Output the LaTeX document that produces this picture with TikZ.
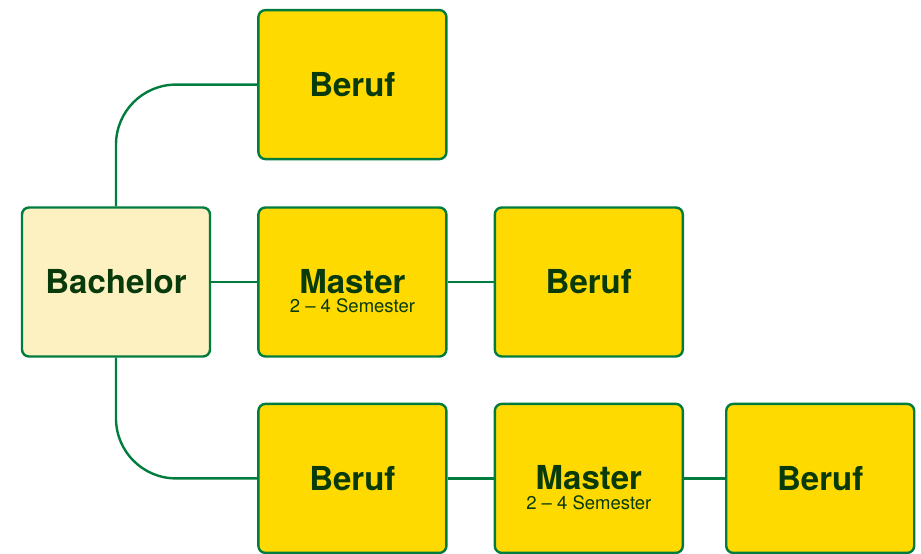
\documentclass[tikz,border=0pt]{standalone}
\usepackage{fontspec}
\setmainfont{TeX Gyre Heros}
\usetikzlibrary{positioning}
\definecolor{boxgreen}{RGB}{0,124,62}
\definecolor{textgreen}{RGB}{8,58,12}
\definecolor{boxyellow}{RGB}{254,218,0}
\definecolor{paleyellow}{RGB}{253,241,194}

\begin{document}
\begin{tikzpicture}[x=1pt,y=1pt,line width=2.4pt,
		node distance=46pt]
		\tikzstyle{stage}=[draw=boxgreen,fill=boxyellow,text=textgreen,rounded corners=7pt,
		minimum width=188pt,minimum height=149pt,align=center,
		font=\fontsize{33}{35}\selectfont\bfseries]
		\tikzstyle{sem}=[text=textgreen,font=\fontsize{18.5}{20}\selectfont,yshift=-24pt]
		\tikzstyle{link}=[draw=boxgreen,rounded corners=60pt]
		
		\useasboundingbox (0,0) rectangle (921,554);
		
		\node[stage,fill=paleyellow] (bach) at (116,272)     {Bachelor};
		\node[stage] (mast1) [right=of bach,label={[sem]center:2 -- 4 Semester}]   {\raisebox{2pt}{Master}};
		\node[stage] (beruf2) [right=of mast1]                 {Beruf};
		\node[stage] (beruf1) [above=46pt of mast1]            {Beruf};
		
		\node[stage] (beruf3) [below=45pt of mast1]            {Beruf};
		\node[stage] (mast2) [right=of beruf3,label={[sem]center:2 -- 4 Semester}] {\raisebox{2pt}{Master}};
		\node[stage] (beruf4) [right=41pt of mast2]            {Beruf};
		
		\path[link] (bach) edge (mast1)
		(mast1) edge (beruf2)
		(beruf3) edge (mast2)
		(mast2) edge (beruf4);
		\draw[link] (bach.north) |- (beruf1.west);
		\draw[link] (bach.south) |- (beruf3.west);
		\end{tikzpicture}
\end{document}
